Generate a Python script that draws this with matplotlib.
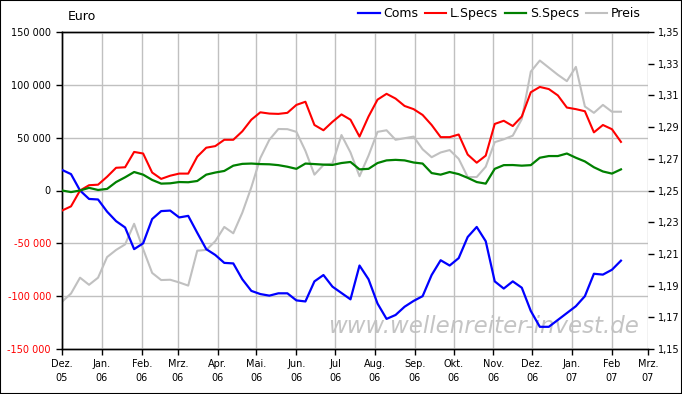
import pandas as pd
import matplotlib
matplotlib.use("Agg")
import matplotlib.pyplot as plt
import matplotlib.dates as mdates
from matplotlib.ticker import FixedLocator, FuncFormatter

# weekly COT data, Euro futures
dates = pd.date_range("2005-12-01", periods=63, freq="7D")

coms = [19500, 15500, 0, -8000, -8500, -20000, -29000, -35000, -55500, -50000,
        -27000, -19500, -19000, -25500, -24000, -40000, -55500, -61000, -68500, -69000,
        -84000, -95000, -98000, -99500, -97300, -97300, -104000, -105000, -86000, -80000,
        -91000, -97000, -103000, -71000, -84000, -107000, -121500, -117800, -110000, -104500,
        -100000, -80000, -66000, -71000, -64000, -44000, -34500, -48000, -86000, -92800,
        -86000, -92000, -114000, -129000, -129000, -122500, -116000, -109500, -100000, -78800,
        -79600, -75000, -66400]

lspecs = [-19000, -15000, 0, 5000, 5500, 13000, 21500, 22000, 36500, 35000,
          17000, 11000, 14000, 16000, 16000, 32000, 40500, 42000, 48000, 48000,
          56000, 67000, 74000, 72800, 72500, 73500, 81000, 84000, 62000, 57000,
          65000, 72000, 67000, 51000, 70000, 86000, 91500, 87000, 80000, 77000,
          71500, 62000, 50500, 50500, 53000, 34000, 26300, 33000, 63000, 66000,
          61000, 70000, 93000, 98000, 96000, 90000, 78500, 77000, 75000, 55000,
          62000, 58000, 46000]

sspecs = [0, -1500, 0, 2500, 500, 1500, 8000, 12500, 17500, 15000,
          10000, 6500, 6800, 8000, 7800, 9000, 15000, 17000, 18500, 23500,
          25200, 25500, 25000, 24800, 24000, 22500, 20500, 25500, 25000, 24500,
          24200, 26000, 27000, 20000, 20500, 26000, 28500, 29000, 28500, 26500,
          25500, 16500, 15000, 17500, 15500, 12000, 8000, 6500, 20500, 24000,
          24100, 23500, 24000, 31000, 32600, 32600, 35000, 31000, 27500, 22000,
          18000, 16000, 20000]

preis = [1.1798, 1.1850, 1.1950, 1.1905, 1.1950, 1.2080, 1.2125, 1.2160, 1.2290, 1.2130,
         1.1980, 1.1935, 1.1937, 1.1920, 1.1900, 1.2120, 1.2125, 1.2180, 1.2270, 1.2230,
         1.2360, 1.2520, 1.2705, 1.2820, 1.2888, 1.2887, 1.2870, 1.2750, 1.2600, 1.2661,
         1.2670, 1.2850, 1.2740, 1.2590, 1.2720, 1.2870, 1.2880, 1.2820, 1.2830, 1.2840,
         1.2760, 1.2710, 1.2740, 1.2755, 1.2700, 1.2585, 1.2585, 1.2650, 1.2805, 1.2823,
         1.2846, 1.2950, 1.3250, 1.3320, 1.3275, 1.3230, 1.3190, 1.3280, 1.3030, 1.2990,
         1.3040, 1.2997, 1.2997]

month_ticks = pd.date_range("2005-12-01", "2007-03-01", freq="MS")
month_labels = ["Dez.\n05", "Jan.\n06", "Feb.\n06", "Mrz.\n06", "Apr.\n06", "Mai.\n06",
                "Jun.\n06", "Jul\n06", "Aug.\n06", "Sep.\n06", "Okt.\n06", "Nov.\n06",
                "Dez.\n06", "Jan.\n07", "Feb\n07", "Mrz.\n07"]
left_ticks = [-150000, -100000, -50000, 0, 50000, 100000, 150000]
right_ticks = [1.15, 1.17, 1.19, 1.21, 1.23, 1.25, 1.27, 1.29, 1.31, 1.33, 1.35]

fig = plt.figure(figsize=(6.82, 3.94), dpi=100)
ax = fig.add_axes([62 / 682, 45 / 394, 586 / 682, 317 / 394])
ax2 = ax.twinx()
# keep the position lines above the price line
ax.set_zorder(ax2.get_zorder() + 1)
ax.patch.set_visible(False)

ax2.plot(dates, preis, color="#c0c0c0", lw=1.5, label="Preis")
ax.plot(dates, coms, color="#0000ff", lw=1.6, label="Coms", zorder=3)
ax.plot(dates, lspecs, color="#ff0000", lw=1.5, label="L.Specs", zorder=3)
ax.plot(dates, sspecs, color="#008000", lw=1.6, label="S.Specs", zorder=3)

ax.set_xlim(month_ticks[0], month_ticks[-1])
ax.set_ylim(-150000, 150000)
ax2.set_ylim(1.15, 1.35)

ax.xaxis.set_major_locator(FixedLocator(mdates.date2num(month_ticks)))
ax.set_xticklabels(month_labels, fontsize=7, linespacing=1.55)
ax.set_yticks(left_ticks)
ax.yaxis.set_major_formatter(FuncFormatter(lambda v, p: f"{int(v):,}".replace(",", " ")))
for lab, v in zip(ax.get_yticklabels(), left_ticks):
    lab.set_color("red" if v < 0 else "black")
ax.tick_params(axis="y", labelsize=7, length=4, width=1, pad=4)
ax.tick_params(axis="x", length=4, width=1, pad=3)

ax2.set_yticks(right_ticks)
ax2.set_yticklabels([f"{v:.2f}".replace(".", ",") for v in right_ticks])
ax2.tick_params(axis="y", labelsize=7, length=4, width=1, pad=3)

ax.grid(True, color="#c0c0c0", lw=1)
for a in (ax, ax2):
    a.spines["right"].set_visible(False)
    for s in ("left", "bottom", "top"):
        a.spines[s].set_linewidth(1)

ax.text(0.985, 0.07, "www.wellenreiter-invest.de", transform=ax.transAxes,
        ha="right", va="center", fontsize=16.5, style="italic", color="#c4c4c4", zorder=0.5)

fig.text(68 / 682, 1 - 16 / 394, "Euro", fontsize=9, va="center")

h1, l1 = ax.get_legend_handles_labels()
h2, l2 = ax2.get_legend_handles_labels()
fig.legend(h1 + h2, l1 + l2, loc="upper right", bbox_to_anchor=(646 / 682, 1 - 2 / 394),
           ncol=4, frameon=False, fontsize=9, handlelength=1.7, handletextpad=0.3,
           columnspacing=0.55, borderaxespad=0)

fig.patches.append(plt.Rectangle((0, 0), 1, 1, transform=fig.transFigure, fill=False,
                                 edgecolor="black", lw=1.5))

fig.savefig("out.png", dpi=100)
